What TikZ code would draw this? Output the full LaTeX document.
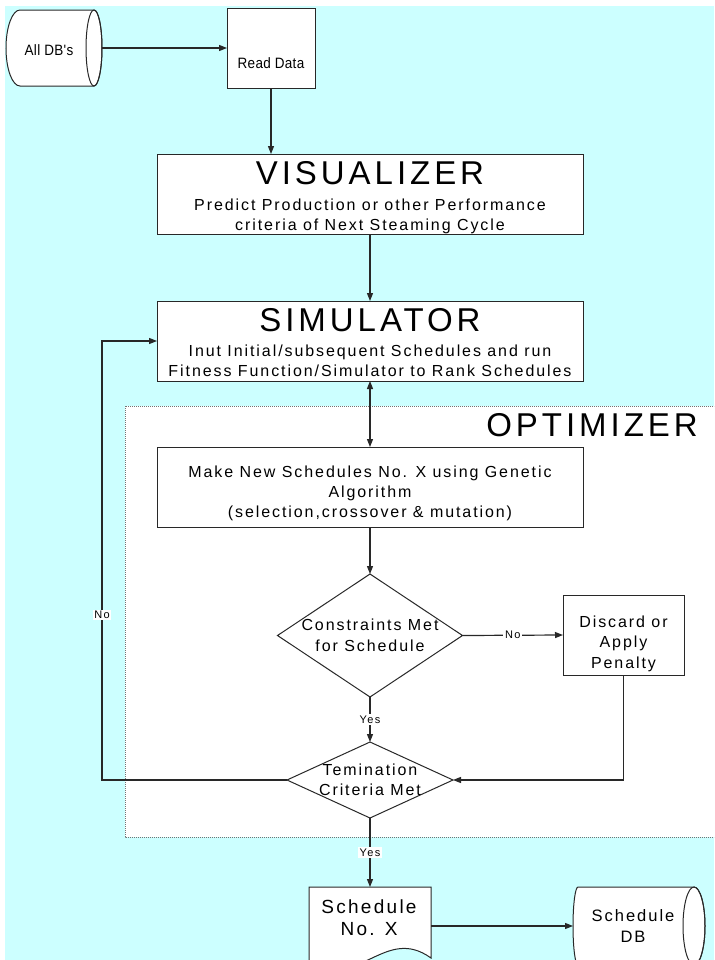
\documentclass[tikz,border=0pt]{standalone}
\usepackage{fontspec}
\setmainfont{Liberation Sans}
\newfontfamily\spfont{Liberation Sans}[LetterSpace=12]
\newfontfamily\spsmall{Liberation Sans}[LetterSpace=2, FakeStretch=0.9]
\usetikzlibrary{arrows.meta,shapes.geometric}
\definecolor{bgcyan}{RGB}{204,255,255}
\definecolor{ln}{RGB}{40,40,40}
\begin{document}
\begin{tikzpicture}[x=0.75pt,y=-0.75pt,
  box/.style={draw=ln, fill=white, line width=0.75pt, inner sep=0pt, outer sep=0pt},
  dia/.style={diamond, draw=ln, fill=white, line width=0.75pt, inner sep=0pt, outer sep=0pt},
  conn/.style={draw=ln, line width=0.9pt, -{Triangle[length=6pt,width=4.5pt]}},
  dconn/.style={draw=ln, line width=0.9pt, {Triangle[length=6pt,width=4.5pt]}-{Triangle[length=6pt,width=4.5pt]}},
  ttl/.style={font=\spfont\fontsize{24.75}{28}\selectfont, inner sep=0pt, anchor=base},
  bdy/.style={font=\spfont\fontsize{12}{14}\selectfont, inner sep=0pt, anchor=base},
  sml/.style={font=\spsmall\fontsize{11.25}{13}\selectfont, inner sep=0pt, anchor=base},
  doctxt/.style={font=\spfont\fontsize{14.25}{16}\selectfont, inner sep=0pt, anchor=base},
  dbtxt/.style={font=\spfont\fontsize{12.4}{14}\selectfont, inner sep=0pt, anchor=base},
  lbl/.style={font=\spfont\fontsize{8.25}{10}\selectfont, fill=white, inner sep=1.2pt},
  optbox/.style={draw=black!55, fill=white, line width=0.75pt, dash pattern=on 0.75pt off 0.75pt},
  shapeline/.style={draw=ln, fill=white, line width=0.75pt}
]
\useasboundingbox (0,0) rectangle (714,960);
\clip (0,0) rectangle (714,960);
% background
\fill[bgcyan] (5,6) rectangle (714,960);
% optimizer region
\draw[optbox] (125,406) rectangle (740,837);
\node[ttl, anchor=base east] (t-opt) at (698,436) {OPTIMIZER};

% All DB's (stored data shape)
\draw[shapeline] (20,10) -- (94,10) .. controls (98.42,10) and (102,27) .. (102,48)
  .. controls (102,69) and (98.42,86) .. (94,86) -- (20,86)
  .. controls (12.27,86) and (6,69) .. (6,48) .. controls (6,27) and (12.27,10) .. cycle;
\draw[draw=ln, line width=0.75pt] (94,48) ellipse [x radius=8, y radius=38];
\coordinate (alldbE) at (102,48);
\node[sml] (t-alldb) at (49,55) {All DB's};

% boxes
\node[box, minimum width=66pt, minimum height=60pt] (read) at (271,48) {};
\node[sml] (t-read) at (271,68) {Read Data};

\node[box, minimum width=319.5pt, minimum height=60pt] (vis) at (370,194) {};
\node[ttl] (t-vis) at (370,184) {VISUALIZER};
\node[bdy] (t-vis1) at (370,210) {Predict Production or other Performance};
\node[bdy] (t-vis2) at (370,230) {criteria of Next Steaming Cycle};

\node[box, minimum width=319.5pt, minimum height=60pt] (sim) at (370,341) {};
\node[ttl] (t-sim) at (370,331) {SIMULATOR};
\node[bdy] (t-sim1) at (370,356) {Inut Initial/subsequent Schedules and run};
\node[bdy] (t-sim2) at (370,376) {Fitness Function/Simulator to Rank Schedules};

\node[box, minimum width=319.5pt, minimum height=60pt] (make) at (370,487) {};
\node[bdy] (t-make1) at (370,477) {Make New Schedules No. X using Genetic};
\node[bdy] (t-make2) at (370,497) {Algorithm};
\node[bdy] (t-make3) at (370,517) {(selection,crossover \& mutation)};

\node[dia, minimum width=138.75pt, minimum height=92.25pt] (cons) at (370,635.5) {};
\node[bdy] (t-cons1) at (370,630) {Constraints Met};
\node[bdy] (t-cons2) at (370,651) {for Schedule};

\node[box, minimum width=90.75pt, minimum height=60pt] (disc) at (623.5,635) {};
\node[bdy] (t-disc1) at (623.5,627) {Discard or};
\node[bdy] (t-disc2) at (623.5,647) {Apply};
\node[bdy] (t-disc3) at (623.5,668) {Penalty};

\node[dia, minimum width=124.5pt, minimum height=57pt] (term) at (370,780) {};
\node[bdy] (t-term1) at (370,775) {Temination};
\node[bdy] (t-term2) at (370,795) {Criteria Met};

% document shape
\draw[shapeline] (309,887) -- (431,887) -- (431,958) .. controls (385,925) and (360,990) .. (309,962) -- cycle;
\coordinate (docN) at (370,887);
\coordinate (docE) at (431,926);
\node[doctxt] (t-doc1) at (369,913) {Schedule};
\node[doctxt] (t-doc2) at (369,935) {No. X};

% Schedule DB
\draw[shapeline] (578,887) -- (694,887) .. controls (700.08,887) and (705,904.5) .. (705,926)
  .. controls (705,947.5) and (700.08,965) .. (694,965) -- (578,965)
  .. controls (575.24,965) and (573,947.5) .. (573,926) .. controls (573,904.5) and (575.24,887) .. cycle;
\draw[draw=ln, line width=0.75pt] (694,926) ellipse [x radius=11, y radius=39];
\coordinate (sdbW) at (573,926);
\node[dbtxt] (t-sdb1) at (633,921) {Schedule};
\node[dbtxt] (t-sdb2) at (633,942) {DB};

% connectors
\coordinate (fbk) at (102,0);
\draw[conn] (alldbE) -- (read.west);
\draw[conn] (read.south) -- (read.south |- vis.north);
\draw[conn] (vis.south) -- (sim.north);
\draw[dconn] (sim.south) -- (make.north);
\draw[conn] (make.south) -- (cons.north);
\draw[conn] (cons.east) -- node[lbl] (l-no1) {No} (disc.west);
\draw[conn] (cons.south) -- node[lbl] (l-yes1) {Yes} (term.north);
\draw[conn] (disc.south) |- (term.east);
\draw[conn] (term.west) -- (term.west -| fbk) -- node[lbl, pos=0.376] (l-no2) {No} (sim.west -| fbk) -- (sim.west);
\draw[conn] (term.south) -- node[lbl] (l-yes2) {Yes} (docN);
\draw[conn] (docE) -- (sdbW);
\end{tikzpicture}
\end{document}
